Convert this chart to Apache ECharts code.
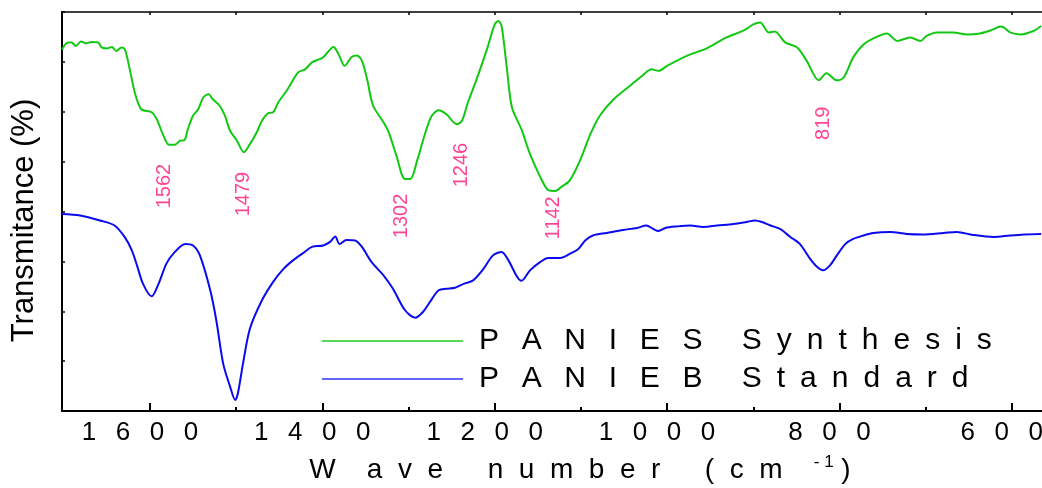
<!DOCTYPE html>
<html>
<head>
<meta charset="utf-8">
<style>
  html, body { margin: 0; padding: 0; background: #fff; }
  #chart { width: 1042px; height: 488px; }
</style>
<script src="https://cdn.jsdelivr.net/npm/echarts@6/dist/echarts.min.js"></script>
</head>
<body>
<div id="chart"></div>
<script>
// wavenumber (cm-1) and transmittance
const synthWn = [1702, 1695, 1691, 1686, 1680, 1674, 1668, 1660, 1656, 1650, 1644, 1639, 1633, 1629, 1623, 1617, 1610, 1598, 1592, 1585,
  1578, 1571, 1565, 1560, 1556, 1550, 1544, 1538, 1532, 1527, 1519, 1513, 1507, 1499, 1491, 1484, 1476, 1470, 1463, 1457,
  1451, 1441, 1428, 1420, 1412, 1399, 1387, 1381, 1374, 1366, 1360, 1354, 1348, 1341, 1329, 1323, 1314, 1304, 1298, 1290,
  1281, 1273, 1265, 1256, 1244, 1238, 1231, 1221, 1209, 1200, 1196, 1192, 1186, 1180, 1169, 1159, 1147, 1138, 1130, 1122,
  1113, 1101, 1089, 1078, 1062, 1043, 1029, 1018, 1010, 1000, 989, 973, 954, 931, 911, 900, 892, 882, 875, 863,
  849, 838, 824, 815, 803, 795, 784, 772, 757, 745, 733, 718, 706, 699, 687, 668, 652, 637, 625, 612,
  602, 590, 575, 566]
const synthT = [72.5, 73.9, 73.9, 73.2, 74.1, 73.7, 74.0, 73.9, 72.9, 72.7, 73.0, 72.2, 72.9, 72.5, 68.2, 63.5, 60.5, 59.9, 58.5, 55.5,
  53.4, 53.4, 54.2, 54.3, 56.5, 59.2, 60.5, 62.9, 63.5, 62.5, 61.2, 59.2, 56.2, 54.2, 51.9, 53.5, 55.9, 58.2, 59.7, 59.9,
  61.9, 64.3, 67.9, 68.5, 69.9, 70.9, 73.0, 71.5, 69.2, 71.0, 71.3, 70.2, 66.5, 61.2, 57.9, 55.9, 51.2, 46.5, 46.5, 50.2,
  55.5, 59.2, 60.3, 59.5, 57.5, 58.2, 61.9, 66.5, 72.5, 77.5, 78.2, 77.2, 68.9, 60.9, 56.5, 51.5, 46.9, 44.3, 44.1, 45.0,
  46.2, 50.2, 55.5, 59.2, 62.5, 65.2, 67.2, 68.5, 68.2, 69.2, 70.2, 71.5, 72.7, 74.9, 76.3, 77.5, 77.9, 75.9, 76.1, 73.9,
  72.9, 70.2, 66.3, 67.7, 66.3, 66.9, 70.9, 73.5, 75.0, 75.7, 74.2, 74.9, 74.2, 75.2, 75.9, 75.9, 75.5, 75.7, 76.3, 77.1,
  75.9, 75.5, 76.2, 77.2]

const standardWn = [1702, 1681, 1658, 1641, 1629, 1621, 1615, 1608, 1598, 1590, 1581, 1573, 1559, 1550, 1542, 1530, 1523, 1515, 1507, 1501,
  1498, 1492, 1484, 1470, 1457, 1445, 1434, 1422, 1412, 1399, 1391, 1385, 1380, 1372, 1362, 1354, 1343, 1329, 1318, 1304,
  1292, 1283, 1275, 1265, 1256, 1246, 1236, 1225, 1213, 1202, 1192, 1184, 1174, 1169, 1159, 1147, 1138, 1124, 1113, 1103,
  1095, 1086, 1070, 1051, 1035, 1024, 1016, 1010, 1002, 989, 973, 958, 942, 923, 908, 898, 890, 880, 869, 857,
  846, 834, 826, 819, 811, 803, 793, 784, 772, 761, 741, 722, 703, 679, 664, 645, 621, 602, 586, 566]
const standardT = [39.5, 39.2, 38.2, 37.2, 34.8, 32.2, 29.2, 25.5, 23.0, 25.5, 29.5, 31.5, 33.5, 33.2, 31.2, 24.2, 18.2, 9.5, 4.9, 2.2,
  3.5, 9.5, 16.5, 22.2, 25.9, 28.5, 30.2, 31.7, 32.9, 33.2, 33.9, 35.0, 33.5, 34.3, 34.2, 32.9, 29.9, 27.2, 24.5, 20.2,
  18.7, 19.9, 21.9, 24.2, 24.5, 24.7, 25.5, 26.2, 28.5, 31.2, 31.9, 30.2, 26.9, 26.1, 28.2, 29.9, 30.7, 30.7, 31.5, 32.5,
  34.2, 35.2, 35.7, 36.3, 36.7, 37.2, 36.5, 36.1, 36.7, 37.0, 37.2, 36.9, 37.2, 37.5, 37.9, 38.2, 37.9, 37.2, 36.5, 34.9,
  33.5, 30.5, 28.9, 28.2, 29.2, 31.2, 33.5, 34.5, 35.2, 35.7, 35.9, 35.5, 35.4, 35.7, 35.9, 35.3, 34.9, 35.2, 35.4, 35.5]

// peak labels (where they sit on the plot)
const peakText = ['1562', '1479', '1302', '1246', '1142', '819']
const peakWn = [1583, 1492, 1308, 1238, 1132, 819]
const peakT = [45.1, 43.5, 39.1, 49.3, 38.7, 57.7]

const majorTicks = [600, 800, 1000, 1200, 1400, 1600]
const minorTicks = [700, 900, 1100, 1300, 1500]
const allTicks = [600, 700, 800, 900, 1000, 1100, 1200, 1300, 1400, 1500, 1600]

const seriesNames = ['PANIES Synthesis', 'PANIEB Standard']

const FONT = 'Liberation Sans'
const UP_GAP = '  \u2009'
const LOW_GAP = '\u2002'
const WORD_GAP = '    \u2009'

function spacedName(name) {
  const parts = name.split(' ')
  return parts[0].split('').join(UP_GAP) + WORD_GAP + parts[1].split('').join(LOW_GAP)
}

const xName = '{t|W    a  v  e     \u2009n  u  m  b  e  r     \u2009(  c  m    }{s|- 1}{t| )}'

const chart = echarts.init(document.getElementById('chart'))

const option = {
  animation: false,
  textStyle: { fontFamily: FONT, color: '#000' },
  grid: { left: 62, top: 12, right: 0, bottom: 77, outerBoundsMode: 'none', containLabel: false },
  legend: {
    orient: 'vertical',
    left: 322,
    top: 326,
    padding: 0,
    icon: 'rect',
    itemWidth: 141,
    itemHeight: 2,
    itemGap: 8,
    selectedMode: false,
    data: [
      { name: seriesNames[0], itemStyle: { color: '#5ad85a' } },
      { name: seriesNames[1], itemStyle: { color: '#6464ff' } },
    ],
    formatter: spacedName,
    textStyle: { fontFamily: FONT, fontSize: 30, color: '#000', padding: [0, 0, 0, 11] },
  },
  xAxis: [{
    type: 'value',
    min: 565,
    max: 1702,
    inverse: true,
    position: 'bottom',
    splitLine: { show: false },
    axisLine: { lineStyle: { color: '#000', width: 2 } },
    axisTick: {
      inside: true,
      length: 8,
      customValues: majorTicks,
      lineStyle: { color: '#000', width: 2 },
    },
    axisLabel: {
      customValues: majorTicks,
      margin: 9,
      padding: [0, 20, 0, 0],
      hideOverlap: false,
      formatter: (v) => String(v).split('').map(c => '{d|' + c + '}').join(''),
      rich: {
        d: { width: 34, align: 'center', fontSize: 26, fontFamily: FONT, color: '#000' },
      },
    },
    name: xName,
    nameLocation: 'middle',
    nameGap: 43,
    nameTextStyle: {
      padding: [0, 0, 0, 56],
      rich: {
        t: { fontSize: 28, fontFamily: FONT, color: '#000', lineHeight: 28, padding: [4, 0, 0, 0] },
        s: { fontSize: 17, fontFamily: FONT, color: '#000', verticalAlign: 'top', lineHeight: 17 },
      },
    },
  }, {
    type: 'value',
    min: 565,
    max: 1702,
    inverse: true,
    position: 'bottom',
    splitLine: { show: false },
    axisLine: { show: false },
    axisLabel: { show: false },
    axisTick: {
      inside: true,
      length: 4,
      customValues: minorTicks,
      lineStyle: { color: '#000', width: 2 },
    },
  }, {
    type: 'value',
    min: 565,
    max: 1702,
    inverse: true,
    position: 'top',
    splitLine: { show: false },
    axisLine: { lineStyle: { color: '#000', width: 1.5 } },
    axisLabel: { show: false },
    axisTick: {
      inside: true,
      length: 3,
      customValues: allTicks,
      lineStyle: { color: '#000', width: 1.5 },
    },
  }],
  yAxis: {
    type: 'value',
    min: 0,
    max: 80,
    interval: 10,
    splitLine: { show: false },
    axisLine: { show: true, lineStyle: { color: '#000', width: 2 } },
    axisTick: { show: true, inside: true, length: 3, lineStyle: { color: '#000', width: 1.5 } },
    axisLabel: { show: false },
    name: 'Transmitance (%)',
    nameLocation: 'middle',
    nameGap: 22,
    nameTextStyle: { fontFamily: FONT, fontSize: 31, color: '#000', padding: [0, 18, 0, 0] },
  },
  series: [{
    name: seriesNames[0],
    type: 'line',
    xAxisIndex: 0,
    showSymbol: false,
    smooth: 0.3,
    color: '#12c812',
    lineStyle: { width: 2, color: '#12c812' },
    data: synthWn.map((w, i) => [w, synthT[i]]),
  }, {
    name: seriesNames[1],
    type: 'line',
    xAxisIndex: 0,
    showSymbol: false,
    smooth: 0.3,
    color: '#0a0aee',
    lineStyle: { width: 2, color: '#0a0aee' },
    data: standardWn.map((w, i) => [w, standardT[i]]),
  }, {
    name: 'peaks',
    type: 'scatter',
    xAxisIndex: 0,
    symbolSize: 1,
    silent: true,
    itemStyle: { color: 'rgba(0,0,0,0)' },
    label: {
      show: true,
      position: 'inside',
      rotate: 90,
      formatter: '{b}',
      fontFamily: FONT,
      fontSize: 20,
      color: '#ff1478',
    },
    data: peakWn.map((w, i) => ({ name: peakText[i], value: [w, peakT[i]] })),
  }],
}

chart.setOption(option)
</script>
</body>
</html>
